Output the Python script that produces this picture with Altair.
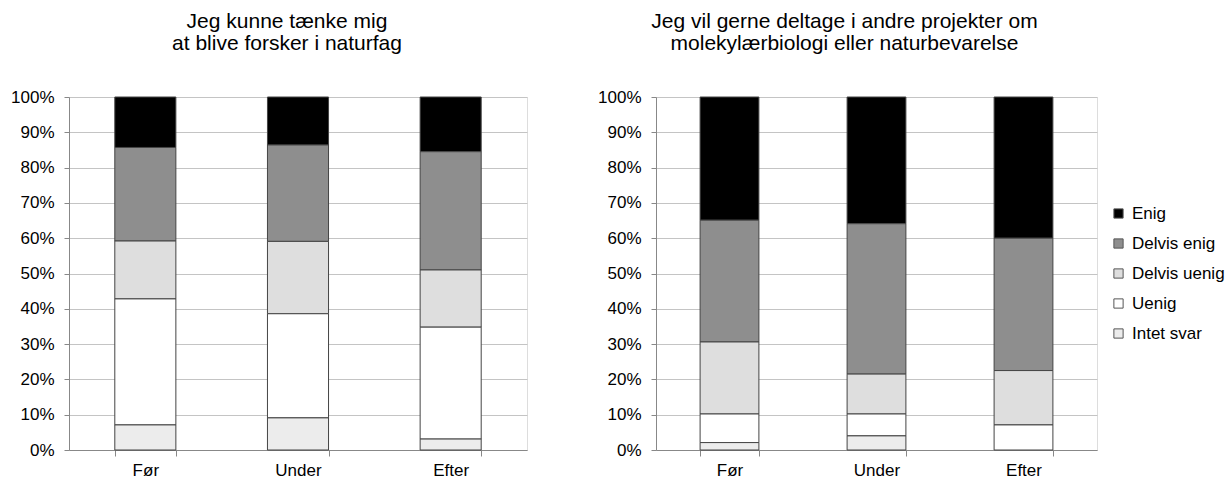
import altair as alt
import pandas as pd

categories = ["Før", "Under", "Efter"]
responses = ["Enig", "Delvis enig", "Delvis uenig", "Uenig", "Intet svar"]
stack_rank = [4, 3, 2, 1, 0]
colors = ["#000000", "#8e8e8e", "#dedede", "#ffffff", "#ececec"]

left_title = ["Jeg kunne tænke mig", "at blive forsker i naturfag"]
right_title = ["Jeg vil gerne deltage i andre projekter om",
               "molekylærbiologi eller naturbevarelse"]

# Left panel (percent of answers)
left_enig = [14.3, 13.6, 15.5]
left_delvis_enig = [26.5, 27.3, 33.5]
left_delvis_uenig = [16.4, 20.5, 16.2]
left_uenig = [35.7, 29.5, 31.7]
left_intet = [7.1, 9.1, 3.1]

# Right panel (percent of answers)
right_enig = [34.9, 35.9, 40.0]
right_delvis_enig = [34.5, 42.6, 37.5]
right_delvis_uenig = [20.4, 11.3, 15.4]
right_uenig = [8.1, 6.2, 7.1]
right_intet = [2.1, 4.0, 0.0]

y_ticks = [0, 0.1, 0.2, 0.3, 0.4, 0.5, 0.6, 0.7, 0.8, 0.9, 1.0]

FONT = "Liberation Sans"


def make_df(series_list):
    rows = []
    for resp, rank, series in zip(responses, stack_rank, series_list):
        for cat, v in zip(categories, series):
            if v > 0:
                rows.append({"period": cat, "response": resp, "rank": rank, "value": v})
    return pd.DataFrame(rows)


left_df = make_df([left_enig, left_delvis_enig, left_delvis_uenig, left_uenig, left_intet])
right_df = make_df([right_enig, right_delvis_enig, right_delvis_uenig, right_uenig, right_intet])


def panel(df, title, width, dx):
    return alt.Chart(df).mark_bar(stroke="#444444", strokeWidth=1).encode(
        x=alt.X("period:N", sort=categories, title=None,
                scale=alt.Scale(paddingInner=0.6, paddingOuter=0.3),
                axis=alt.Axis(labelAngle=0, tickBand="extent", grid=False,
                              domainColor="#888888", tickColor="#888888",
                              tickSize=6, labelPadding=6, labelFontSize=17,
                              labelFont=FONT, labelColor="#000000")),
        y=alt.Y("value:Q", stack="normalize", title=None,
                scale=alt.Scale(domain=[0, 1], nice=False),
                axis=alt.Axis(values=y_ticks, format=".0%", grid=True,
                              gridColor="#c4c4c4", domainColor="#888888",
                              tickColor="#888888", tickSize=5, labelPadding=10,
                              labelFontSize=17, labelFont=FONT,
                              labelColor="#000000")),
        color=alt.Color("response:N",
                        scale=alt.Scale(domain=responses, range=colors),
                        legend=alt.Legend(title=None, orient="none",
                                          legendX=1041, legendY=108,
                                          symbolType="square", symbolSize=85,
                                          symbolStrokeColor="#555555",
                                          symbolStrokeWidth=1,
                                          labelFontSize=17, labelFont=FONT,
                                          labelColor="#000000",
                                          labelOffset=5, rowPadding=12)),
        order=alt.Order("rank:Q", sort="ascending"),
    ).properties(
        width=width, height=353,
        title=alt.TitleParams(text=title, dx=dx, anchor="middle", fontSize=21,
                              lineHeight=22, font=FONT, fontWeight="normal",
                              color="#000000", offset=34),
    )


left = panel(left_df, left_title, 458, -11)
right = panel(right_df, right_title, 441, -32)

chart = alt.hconcat(left, right, spacing=69).properties(
    padding={"left": 10, "top": 10, "right": 0, "bottom": 0},
).configure_view(stroke="#888888", strokeWidth=1).configure(background="white")

chart.save("out.html", embed_options={"renderer": "svg", "actions": False})
